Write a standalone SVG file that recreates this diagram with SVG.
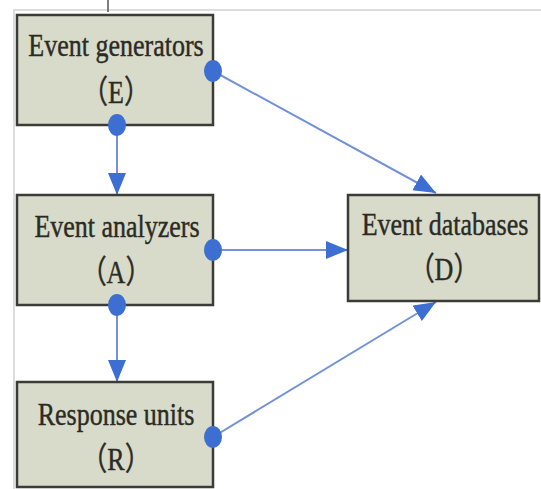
<svg xmlns="http://www.w3.org/2000/svg" width="541" height="489" viewBox="0 0 541 489">
  <defs>
    <style>
      .box { fill: #d8dbc9; stroke: #3b3b37; stroke-width: 2.5; }
      .lbl { font-family: "Liberation Serif", "Noto Sans CJK SC", serif; font-size: 26px; fill: #2b2b26; stroke: #2b2b26; stroke-width: 0.35; text-anchor: middle; }
      .link { fill: none; stroke: #7393d6; stroke-width: 2; }
      .dot { fill: #3d6fd3; }
      .frame { stroke: #d2d2d2; stroke-width: 1.5; fill: none; }
    </style>
    <marker id="arrow" markerUnits="userSpaceOnUse" markerWidth="24" markerHeight="20" refX="22" refY="9" orient="auto">
      <path d="M0,0 L22,9 L0,18 Z" fill="#3d6fd3"/>
    </marker>
  </defs>

  <rect width="541" height="489" fill="#ffffff"/>

  <!-- page frame -->
  <path class="frame" d="M14,489 L14,10 L541,10"/>
  <line x1="108" y1="0" x2="108" y2="12" stroke="#555" stroke-width="1.5"/>

  <!-- connectors -->
  <g id="connectors">
    <line class="link" x1="117" y1="125" x2="117" y2="195" marker-end="url(#arrow)"/>
    <line class="link" x1="117" y1="305" x2="117" y2="382" marker-end="url(#arrow)"/>
    <line class="link" x1="213" y1="71" x2="436" y2="193" marker-end="url(#arrow)"/>
    <line class="link" x1="213" y1="250" x2="348" y2="250" marker-end="url(#arrow)"/>
    <line class="link" x1="213" y1="437" x2="436" y2="302" marker-end="url(#arrow)"/>
  </g>

  <!-- Event generators -->
  <g id="node-E">
    <rect class="box" x="17" y="15" width="196" height="110"/>
    <text class="lbl" transform="translate(116,56) scale(1,1.23)">Event generators</text>
    <text class="lbl" transform="translate(116,103) scale(1,1.23)">（E）</text>
  </g>

  <!-- Event analyzers -->
  <g id="node-A">
    <rect class="box" x="17" y="195" width="196" height="110"/>
    <text class="lbl" transform="translate(117,237) scale(1,1.23)">Event analyzers</text>
    <text class="lbl" transform="translate(116,283) scale(1,1.23)">（A）</text>
  </g>

  <!-- Response units -->
  <g id="node-R">
    <rect class="box" x="17" y="382" width="196" height="105"/>
    <text class="lbl" transform="translate(116,425) scale(1,1.23)">Response units</text>
    <text class="lbl" transform="translate(116,470) scale(1,1.23)">（R）</text>
  </g>

  <!-- Event databases -->
  <g id="node-D">
    <rect class="box" x="348" y="195" width="191" height="106"/>
    <text class="lbl" transform="translate(445,235) scale(1,1.23)">Event databases</text>
    <text class="lbl" transform="translate(444,280) scale(1,1.23)">（D）</text>
  </g>

  <!-- connection points -->
  <g id="ports">
    <ellipse class="dot" cx="213" cy="71" rx="9" ry="11"/>
    <ellipse class="dot" cx="117" cy="125" rx="9" ry="11"/>
    <ellipse class="dot" cx="213" cy="250" rx="9" ry="11"/>
    <ellipse class="dot" cx="117" cy="305" rx="9" ry="11"/>
    <ellipse class="dot" cx="213" cy="437" rx="9" ry="11"/>
  </g>
</svg>
